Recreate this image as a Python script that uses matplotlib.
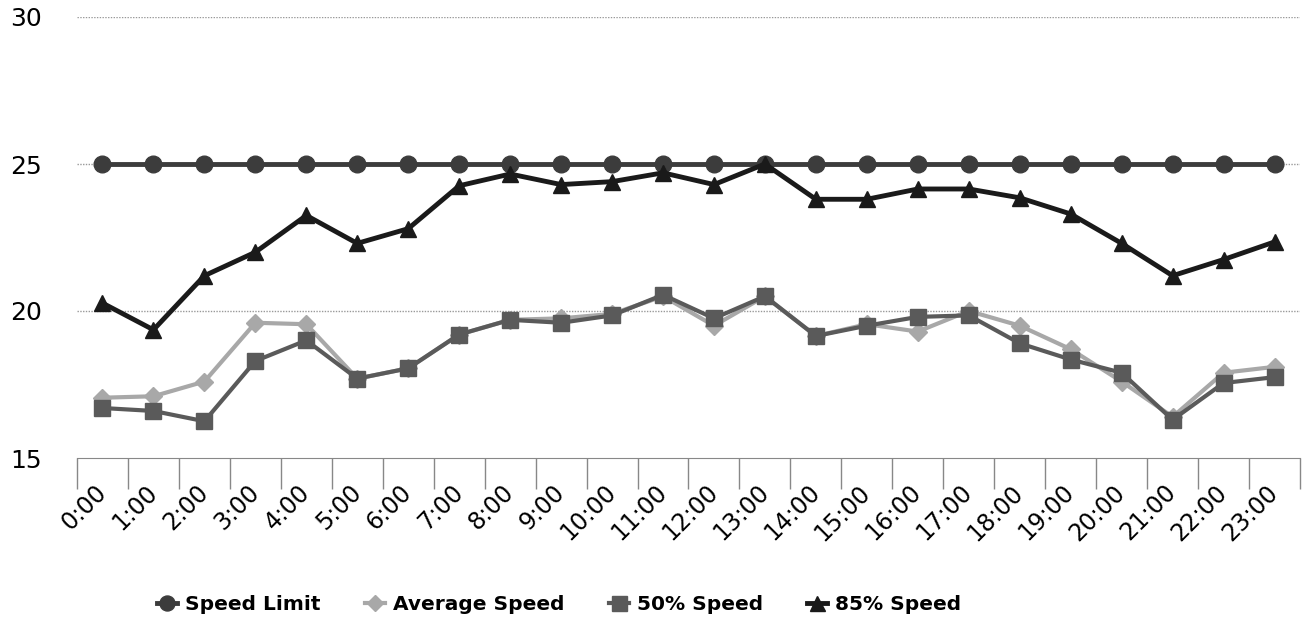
import matplotlib
matplotlib.use("Agg")
import matplotlib.pyplot as plt
import numpy as np

hours = [f"{h}:00" for h in range(24)]
speed_limit = [25] * 24
average_speed = [17.05, 17.1, 17.6, 19.6, 19.55, 17.7, 18.05, 19.2, 19.7, 19.75, 19.9, 20.5,
                 19.5, 20.5, 19.15, 19.55, 19.3, 20.0, 19.5, 18.7, 17.6, 16.4, 17.9, 18.1]
speed_50 = [16.7, 16.6, 16.25, 18.3, 19.0, 17.7, 18.05, 19.2, 19.7, 19.6, 19.85, 20.55,
            19.75, 20.5, 19.15, 19.5, 19.8, 19.85, 18.9, 18.35, 17.9, 16.3, 17.55, 17.75]
speed_85 = [20.27, 19.36, 21.2, 22.0, 23.25, 22.3, 22.8, 24.26, 24.66, 24.3, 24.4, 24.7,
            24.3, 25.0, 23.8, 23.8, 24.15, 24.15, 23.85, 23.3, 22.3, 21.2, 21.75, 22.35]
y_ticks = [15, 20, 25, 30]

fig = plt.figure(figsize=(13.04, 6.26), dpi=100)
ax = fig.add_axes([77/1304, 1-458/626, (1300-77)/1304, (458-17)/626])

x = np.arange(len(hours))
ax.plot(x, speed_limit, color="#3c3c3c", lw=3.5, marker="o", ms=12, label="Speed Limit", zorder=3)
ax.plot(x, average_speed, color="#a8a8a8", lw=3, marker="D", ms=9, label="Average Speed", zorder=4)
ax.plot(x, speed_50, color="#5a5a5a", lw=3, marker="s", ms=12, label="50% Speed", zorder=5)
ax.plot(x, speed_85, color="#1a1a1a", lw=3.5, marker="^", ms=12, label="85% Speed", zorder=6)

ax.set_xlim(-0.5, len(hours) - 0.5)
ax.set_ylim(15, 30)
ax.set_yticks(y_ticks)
ax.tick_params(axis="y", length=0, pad=25, labelsize=18)
for yv in y_ticks[1:]:
    ax.axhline(yv, color="#999999", lw=1, ls=(0, (1, 1)), zorder=1)

ax.set_xticks(np.arange(len(hours) + 1) - 0.5)
ax.set_xticklabels([])
ax.tick_params(axis="x", which="major", length=22, width=1, color="#888888")
ax.set_xticks(x, minor=True)
ax.set_xticklabels(hours, minor=True, rotation=45, ha="right", va="center",
                   rotation_mode="anchor", fontsize=17)
ax.tick_params(axis="x", which="minor", length=0, pad=22)

for s in ["left", "right", "top"]:
    ax.spines[s].set_visible(False)
ax.spines["bottom"].set_color("#888888")
ax.spines["bottom"].set_linestyle((0, (1, 1)))

fig.legend(loc="center", bbox_to_anchor=(559/1304, 1-605/626), ncol=4, frameon=False,
           prop={"weight": "bold", "size": 14.5}, handlelength=1.0, handletextpad=0.4,
           columnspacing=2.2, markerscale=0.9)

fig.savefig("out.png", dpi=100)
